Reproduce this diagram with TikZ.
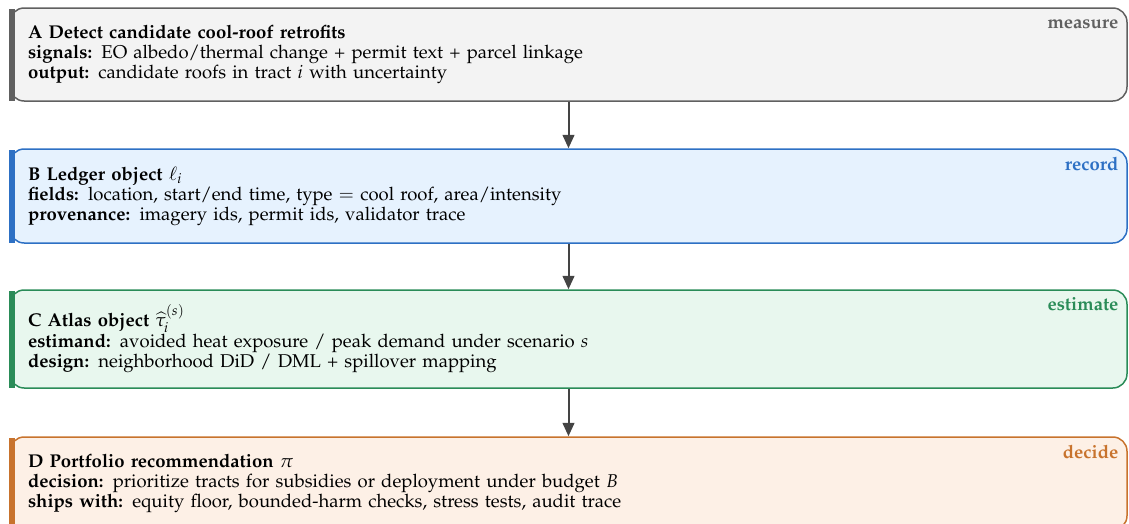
\documentclass[tikz,border=0pt]{standalone}
\usepackage[T1]{fontenc}
\usepackage{mathpazo}
\usetikzlibrary{arrows.meta,calc}
\definecolor{cA}{RGB}{96,96,96}
\definecolor{fA}{RGB}{243,243,243}
\definecolor{cB}{RGB}{45,112,196}
\definecolor{fB}{RGB}{230,242,254}
\definecolor{cC}{RGB}{42,140,88}
\definecolor{fC}{RGB}{232,247,238}
\definecolor{cD}{RGB}{200,115,45}
\definecolor{fD}{RGB}{253,240,230}
\definecolor{arr}{RGB}{68,68,68}
\tikzset{
  stage/.style={draw=c#1, fill=f#1, line width=0.9pt, rounded corners=8.5pt,
    minimum width=670.2pt, text width=648.6pt, inner xsep=10.8pt, inner ysep=4pt,
    align=left, anchor=center, font=\fontsize{11.1}{12}\selectfont},
  tag/.style={text=c#1, font=\fontsize{11.1}{12}\selectfont\bfseries, anchor=base east, inner sep=0pt},
  flow/.style={draw=arr, line width=1.2pt, -{Triangle[width=7pt,length=8pt]}}
}
\begin{document}
\begin{tikzpicture}[x=0.6pt,y=-0.6pt]
\useasboundingbox (0,0) rectangle (1129,524);
\node[stage=A, minimum height=55.8pt] (A) at (568.5,54.5) {\textbf{A Detect candidate cool-roof retrofits}\\
\textbf{signals:} EO albedo/thermal change + permit text + parcel linkage\\
\textbf{output:} candidate roofs in tract $i$ with uncertainty};
\node[stage=B, minimum height=56.4pt] (B) at (568.5,196) {\textbf{B Ledger object} $\ell_i$\\
\textbf{fields:} location, start/end time, type $=$ cool roof, area/intensity\\
\textbf{provenance:} imagery ids, permit ids, validator trace};
\node[stage=C, minimum height=58.8pt] (C) at (568.5,339) {\textbf{C Atlas object} $\widehat{\tau}_i^{(s)}$\\
\textbf{estimand:} avoided heat exposure / peak demand under scenario $s$\\
\textbf{design:} neighborhood DiD / DML + spillover mapping};
\node[stage=D, minimum height=55.8pt] (D) at (568.5,483.5) {\textbf{D Portfolio recommendation} $\pi$\\
\textbf{decision:} prioritize tracts for subsidies or deployment under budget $B$\\
\textbf{ships with:} equity floor, bounded-harm checks, stress tests, audit trace};
\foreach \b in {A,B,C,D}{
  \fill[c\b] ($(\b.north west)+(0,2)$) rectangle ($(\b.south west)+(6,-1)$);
}
\node[tag=A] (tA) at ($(A.north east)+(-9,21)$) {measure};
\node[tag=B] (tB) at ($(B.north east)+(-9,22)$) {record};
\node[tag=C] (tC) at ($(C.north east)+(-9,21)$) {estimate};
\node[tag=D] (tD) at ($(D.north east)+(-9,22)$) {decide};
\draw[flow] (A.south) -- (B.north);
\draw[flow] (B.south) -- (C.north);
\draw[flow] (C.south) -- (D.north);
\end{tikzpicture}
\end{document}
